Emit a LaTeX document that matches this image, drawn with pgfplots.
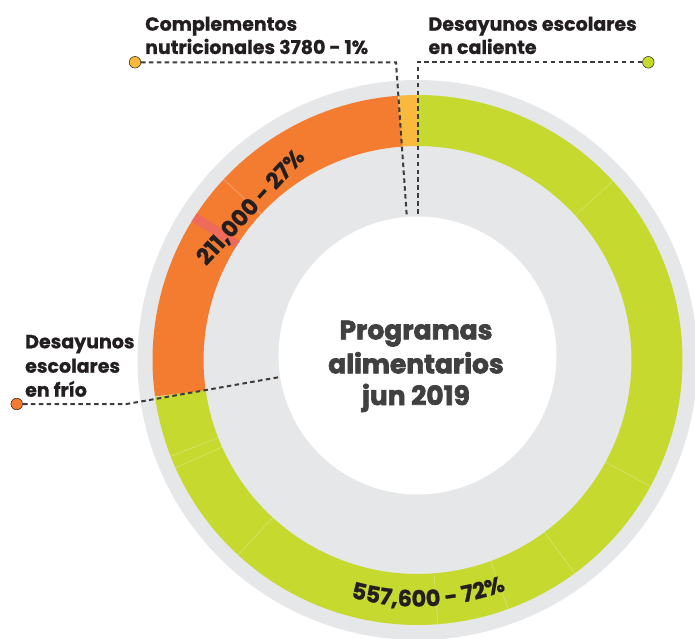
\documentclass[border=0pt]{standalone}
\usepackage{fontspec}
\setmainfont{Poppins}
\newfontfamily\labfont{Poppins}[BoldFeatures={FakeBold=0.8}]
\newfontfamily\heavyfont{Poppins}[BoldFeatures={FakeBold=2.6}]
\usepackage{pgfplots}
\pgfplotsset{compat=1.18}
\usetikzlibrary{decorations.text}
\definecolor{ringgray}{HTML}{E6E7E8}
\definecolor{ringgreen}{HTML}{C5D92E}
\definecolor{ringorange}{HTML}{F47C30}
\definecolor{ringyellow}{HTML}{F8B93C}
\definecolor{ringsalmon}{HTML}{EE6B5B}
\definecolor{labeltext}{HTML}{231F20}
\definecolor{centertext}{HTML}{404041}
\definecolor{leader}{HTML}{3C3C3C}
\newcommand\lab{\labfont\fontsize{19}{22}\selectfont\bfseries\color{labeltext}}
\newcommand\ringfont{\labfont\fontsize{22.5}{25}\selectfont\bfseries\color{labeltext}}
\newcommand\centerfont{\heavyfont\fontsize{26.5}{30}\selectfont\bfseries\color{centertext}}
\begin{document}
\begin{tikzpicture}
\begin{axis}[at={(0,0)}, anchor=south west, scale only axis,
  width=695pt, height=638pt, xmin=0, xmax=695, ymin=0, ymax=638,
  hide axis, clip=true]
% background disk
\addplot[fill=ringgray, draw=none, domain=0:360, samples=181] ({417.5+280*cos(x)},{278+280*sin(x)});
% inner white disk
\addplot[fill=white, draw=none, domain=0:360, samples=181] ({417.5+139*cos(x)},{282.5+139*sin(x)});
% segments (angles)
% Desayunos escolares en caliente 557,600 (72%)
\addplot[draw=ringgreen, line width=51pt, domain=-172:90, samples=132] ({417.5+239.5*cos(x)},{278+239.5*sin(x)});
% Complementos nutricionales 3780 (1%)
\addplot[draw=ringyellow, line width=51pt, domain=90:94.2, samples=4] ({417.5+239.5*cos(x)},{278+239.5*sin(x)});
% Desayunos escolares en frio 211,000 (27%)
\addplot[draw=ringorange, line width=51pt, domain=94.2:188, samples=48] ({417.5+239.5*cos(x)},{278+239.5*sin(x)});
\addplot[draw=ringsalmon, line width=51pt, domain=146.3:148.5, samples=3] ({417.5+239.5*cos(x)},{278+239.5*sin(x)});
% faint separators
\addplot[draw=white, opacity=0.3, line width=0.7pt, domain=214:265, samples=2] ({417.5+x*cos(42.5)},{278+x*sin(42.5)});
\addplot[draw=white, opacity=0.3, line width=0.7pt, domain=214:265, samples=2] ({417.5+x*cos(-28.5)},{278+x*sin(-28.5)});
\addplot[draw=white, opacity=0.3, line width=0.7pt, domain=214:265, samples=2] ({417.5+x*cos(-53.6)},{278+x*sin(-53.6)});
\addplot[draw=white, opacity=0.3, line width=0.7pt, domain=214:265, samples=2] ({417.5+x*cos(-70)},{278+x*sin(-70)});
\addplot[draw=white, opacity=0.3, line width=0.7pt, domain=214:265, samples=2] ({417.5+x*cos(-85.6)},{278+x*sin(-85.6)});
\addplot[draw=white, opacity=0.3, line width=0.7pt, domain=214:265, samples=2] ({417.5+x*cos(-132.6)},{278+x*sin(-132.6)});
\addplot[draw=white, opacity=0.3, line width=0.7pt, domain=214:265, samples=2] ({417.5+x*cos(-156)},{278+x*sin(-156)});
\addplot[draw=white, opacity=0.3, line width=0.7pt, domain=214:265, samples=2] ({417.5+x*cos(-158.7)},{278+x*sin(-158.7)});
\addplot[draw=white, opacity=0.3, line width=0.7pt, domain=214:265, samples=2] ({417.5+x*cos(137)},{278+x*sin(137)});
% leader lines
\addplot[draw=leader, line width=2pt, dash pattern=on 4.5pt off 3.4pt] coordinates {(141,575.7) (396,575.7) (406.7,423)};
\addplot[draw=leader, line width=2pt, dash pattern=on 4.5pt off 3.4pt] coordinates {(642,575.7) (417.5,575.7) (417.5,423)};
\addplot[draw=leader, line width=2pt, dash pattern=on 4.5pt off 3.4pt] coordinates {(23,234) (126.7,234) (278.3,260.7)};
\addplot[only marks, mark=*, mark size=5.8pt, mark options={fill=ringyellow, draw=none}] coordinates {(135,575.7)};
\addplot[only marks, mark=*, mark size=5.8pt, mark options={fill=ringgreen, draw=none}] coordinates {(648.3,575.7)};
\addplot[only marks, mark=*, mark size=5.8pt, mark options={fill=ringorange, draw=none}] coordinates {(16.7,234)};
% labels
\node[anchor=base west, inner sep=0, font=\lab] at (axis cs:145,607.3) {Complementos};
\node[anchor=base west, inner sep=0, font=\lab] at (axis cs:145,584) {nutricionales 3780 - 1\%};
\node[anchor=base west, inner sep=0, font=\lab] at (axis cs:428.3,607.3) {Desayunos escolares};
\node[anchor=base west, inner sep=0, font=\lab] at (axis cs:428.3,584) {en caliente};
\node[anchor=base west, inner sep=0, font=\lab] at (axis cs:25,289.7) {Desayunos};
\node[anchor=base west, inner sep=0, font=\lab] at (axis cs:25,265.3) {escolares};
\node[anchor=base west, inner sep=0, font=\lab] at (axis cs:25,241.3) {en frío};
\node[anchor=base, inner sep=0, font=\centerfont] at (axis cs:416,298.7) {Programas};
\node[anchor=base, inner sep=0, font=\centerfont] at (axis cs:416,264.7) {alimentarios};
\node[anchor=base, inner sep=0, font=\centerfont] at (axis cs:416,233) {jun 2019};
\node[anchor=center, inner sep=0, rotate=47.5, font=\ringfont] at (axis cs:251,430.7) {211,000 - 27\%};
\path[decorate, decoration={text along path, text align=center,
  text={|\ringfont|557,600 - 72{\%}}}]
  (axis cs:304.0,59.0) arc[start angle=-117.4, end angle=-57.4, radius=246.7pt];
\end{axis}
\pgfresetboundingbox
\useasboundingbox (0,0) rectangle (695pt,638pt);
\end{tikzpicture}
\end{document}
